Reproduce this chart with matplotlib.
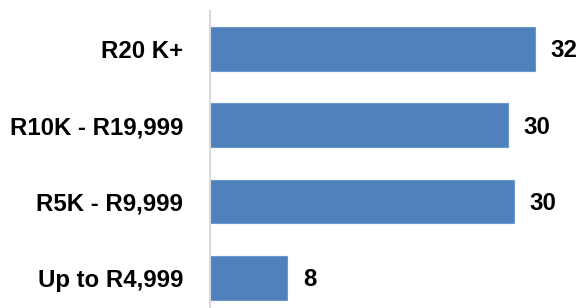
import matplotlib
matplotlib.use("Agg")
import matplotlib.pyplot as plt

categories = ["R20 K+", "R10K - R19,999", "R5K - R9,999", "Up to R4,999"]
values = [32.4, 29.7, 30.3, 7.7]

W, H, DPI = 581, 308, 100
fig = plt.figure(figsize=(W / DPI, H / DPI), dpi=DPI)
left_px, top_px, bottom_px = 209.5, 10.6, 316.0
ax = fig.add_axes([left_px / W, 1 - bottom_px / H, (W - left_px) / W, (bottom_px - top_px) / H])

ypos = list(range(len(categories)))
ax.barh(ypos, values, height=0.57, color="#4F81BD", edgecolor="#6C97CC", linewidth=0.8)
ax.set_ylim(len(categories) - 0.5, -0.5)
ax.set_xlim(0, (W - left_px) / 10.04)

font = dict(family=["Liberation Sans", "DejaVu Sans"], fontweight="bold", fontsize=17.3)
ax.set_yticks(ypos)
ax.set_yticklabels(categories, **font)
ax.tick_params(axis="y", length=0, pad=19, colors="black")
ax.set_xticks([])

for y, v in zip(ypos, values):
    ax.annotate(f"{v:.0f}", xy=(v, y), xytext=(11.5, -1.5), textcoords="offset points",
                ha="left", va="center", **font)

for s in ["top", "right", "bottom"]:
    ax.spines[s].set_visible(False)
ax.spines["left"].set_color("#D9D9D9")
ax.spines["left"].set_linewidth(1.5)

fig.savefig("out.png", dpi=DPI)
